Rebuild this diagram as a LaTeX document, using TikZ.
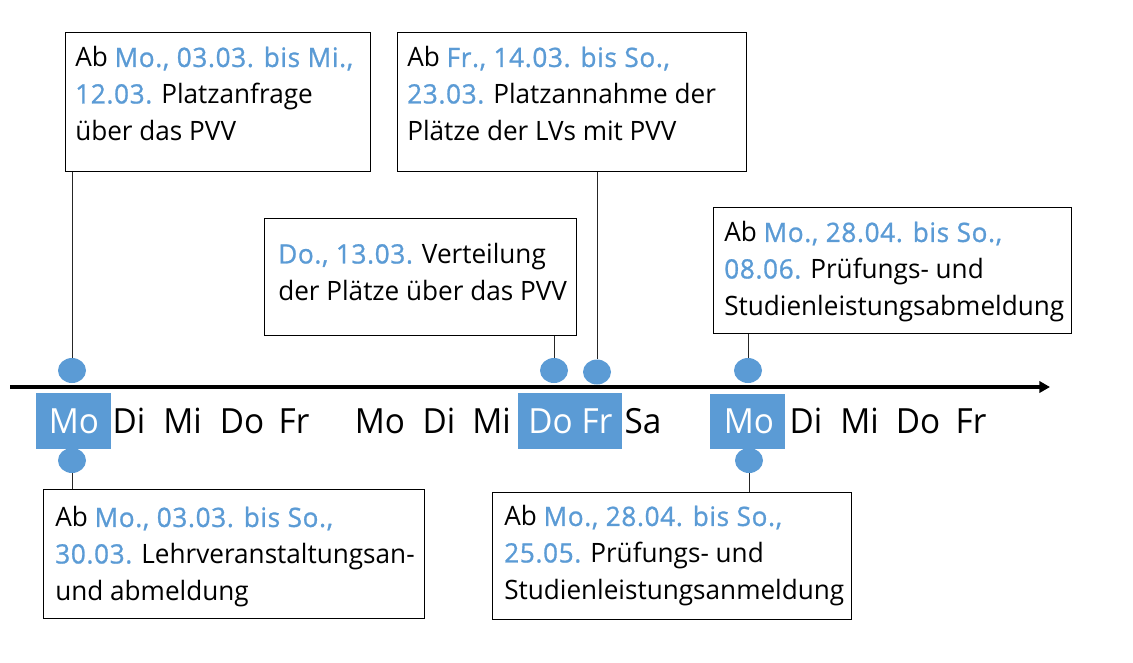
\documentclass[tikz,border=0pt]{standalone}
\usepackage{fontspec}
\setmainfont[FakeStretch=0.98]{Open Sans}
\newfontfamily\semib[FakeStretch=0.98,FakeBold=1,LetterSpace=2.5]{Open Sans}
\newfontfamily\dayfont[FakeStretch=0.96]{Open Sans}
\usetikzlibrary{arrows.meta,shapes.geometric}
\definecolor{accent}{HTML}{5B9BD5}
\newcommand\blu[1]{{\semib\textcolor{accent}{#1}}}
\begin{document}
\begin{tikzpicture}[x=0.75pt,y=-0.75pt,
  infobox/.style={draw=black, line width=0.9pt, anchor=north west, inner sep=0pt},
  txt/.style={align=left, inner sep=0pt, anchor=base west, font=\fontsize{20}{27.4}\selectfont},
  dot/.style={ellipse, fill=accent, inner sep=0pt, minimum width=21pt, minimum height=18.75pt},
  daybox/.style={fill=accent, anchor=north west, inner sep=0pt},
  day/.style={anchor=base, inner sep=0pt, font=\dayfont\fontsize{26}{30}\selectfont},
  dayw/.style={day, text=white},
  conn/.style={draw=black!85, line width=0.75pt},
  axis/.style={line width=3pt, -{Triangle[length=8pt,width=8.5pt]}}]
\useasboundingbox (0,0) rectangle (1133,662);

% info boxes
\node[infobox, minimum width=305*0.75pt, minimum height=139*0.75pt] (b1) at (65,32) {};
\node[infobox, minimum width=349*0.75pt, minimum height=139*0.75pt] (b2) at (397,32) {};
\node[infobox, minimum width=312*0.75pt, minimum height=117*0.75pt] (b3) at (264,218) {};
\node[infobox, minimum width=358*0.75pt, minimum height=126*0.75pt] (b4) at (713,207) {};
\node[infobox, minimum width=381*0.75pt, minimum height=129*0.75pt] (b5) at (43,489) {};
\node[infobox, minimum width=359*0.75pt, minimum height=127*0.75pt] (b6) at (492,492) {};

% texts (anchored at the baseline of their last line)
\node[txt] (t1) at (75,140) {Ab \blu{Mo., 03.03. bis Mi.,}\\\blu{12.03.} Platzanfrage\\über das PVV};
\node[txt] (t2) at (407,140) {Ab \blu{Fr., 14.03. bis So.,}\\\blu{23.03.} Platzannahme der\\Plätze der LVs mit PVV};
\node[txt] (t3) at (278,300) {\blu{Do., 13.03.} Verteilung\\der Plätze über das PVV};
\node[txt] (t4) at (724,315) {Ab \blu{Mo., 28.04. bis So.,}\\\blu{08.06.} Prüfungs- und\\Studienleistungsabmeldung};
\node[txt] (t5) at (55,600) {Ab \blu{Mo., 03.03. bis So.,}\\\blu{30.03.} Lehrveranstaltungsan-\\und abmeldung};
\node[txt] (t6) at (504,599) {Ab \blu{Mo., 28.04. bis So.,}\\\blu{25.05.} Prüfungs- und\\Studienleistungsanmeldung};

% highlighted day boxes
\node[daybox, minimum width=75*0.75pt, minimum height=56*0.75pt] (h1) at (36,393) {};
\node[daybox, minimum width=104*0.75pt, minimum height=56*0.75pt] (h2) at (518,393) {};
\node[daybox, minimum width=75*0.75pt, minimum height=55*0.75pt] (h3) at (710,394) {};

% axis
\coordinate (a0) at (10,387);
\coordinate (a1) at (1050,387);
\draw[axis] (a0) -- (a1);

% day labels
\node[dayw] (w1) at (74,433) {Mo};
\node[day] (w2) at (129,433) {Di};
\node[day] (w3) at (182.5,433) {Mi};
\node[day] (w4) at (242,433) {Do};
\node[day] (w5) at (294,433) {Fr};
\node[day] (w6) at (380,433) {Mo};
\node[day] (w7) at (439,433) {Di};
\node[day] (w8) at (491.5,433) {Mi};
\node[dayw] (w9) at (550.5,433) {Do};
\node[dayw] (w10) at (597,433) {Fr};
\node[day] (w11) at (643,433) {Sa};
\node[dayw] (w12) at (749,433) {Mo};
\node[day] (w13) at (806,433) {Di};
\node[day] (w14) at (859.5,433) {Mi};
\node[day] (w15) at (918,433) {Do};
\node[day] (w16) at (971,433) {Fr};

% dots
\node[dot] (d1) at (72,370.5) {};
\node[dot] (d2) at (72,460.5) {};
\node[dot] (d3) at (554,370.5) {};
\node[dot] (d4) at (597,372) {};
\node[dot] (d5) at (748,370.5) {};
\node[dot] (d6) at (749,460.5) {};

% connectors
\draw[conn] (d1.north) -- (d1.north |- b1.south);
\draw[conn] (d3.north) -- (d3.north |- b3.south);
\draw[conn] (d4.north) -- (d4.north |- b2.south);
\draw[conn] (d5.north) -- (d5.north |- b4.south);
\draw[conn] (d2.south) -- (d2.south |- b5.north);
\draw[conn] (d6.south) -- (d6.south |- b6.north);
\end{tikzpicture}
\end{document}
